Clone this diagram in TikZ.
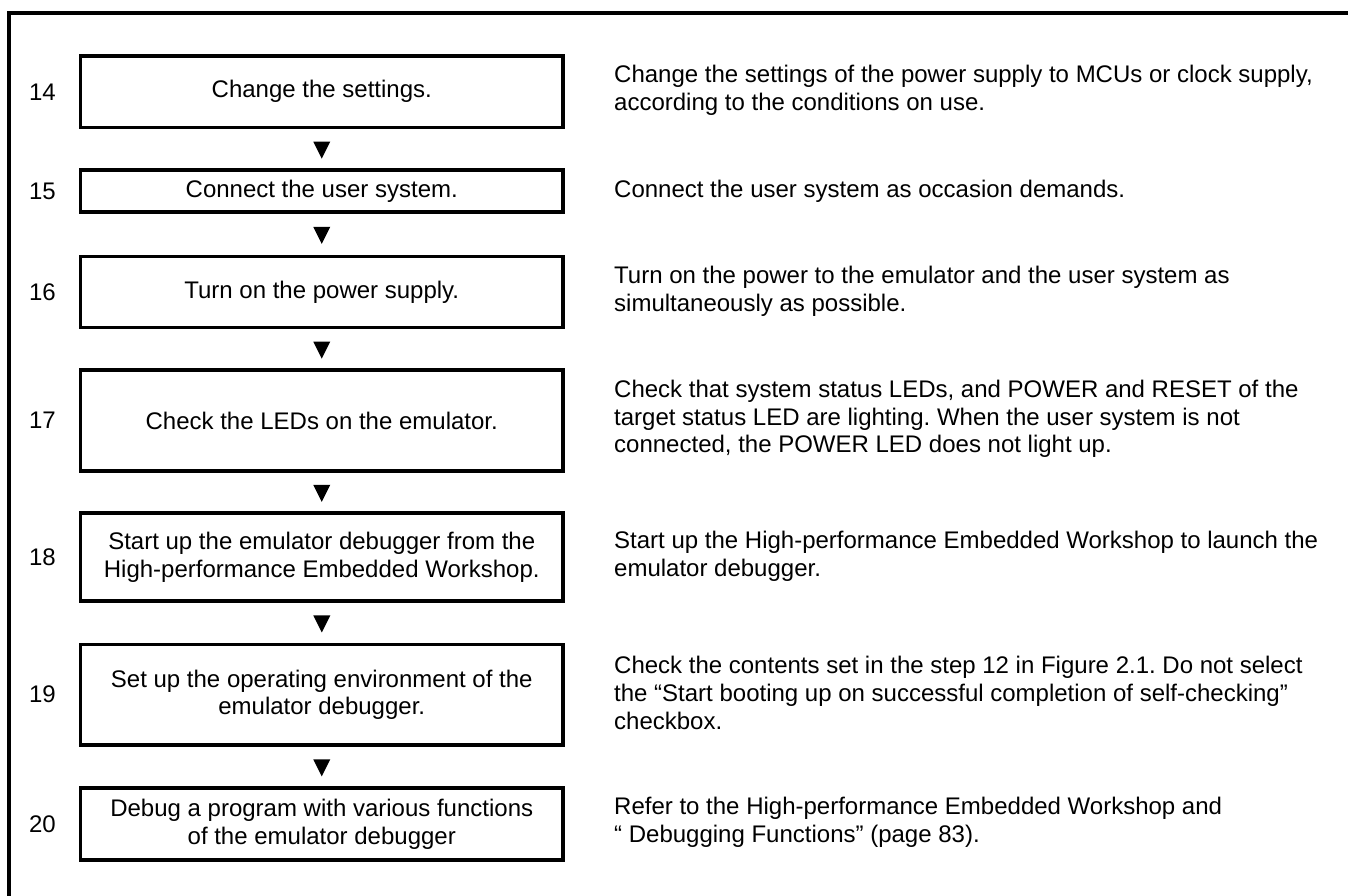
\documentclass[tikz,border=0pt]{standalone}
\usepackage{fontspec}
\setmainfont{Liberation Sans}
\usetikzlibrary{shapes.geometric}
\frenchspacing
\begin{document}
\begin{tikzpicture}[x=1pt,y=-1pt,
  txt/.style={font=\fontsize{24}{27.6}\selectfont},
  stepbox/.style={txt, draw, line width=3.6pt, minimum width=482.5pt, inner sep=0pt, align=center},
  numlabel/.style={txt, inner sep=0pt},
  desc/.style={txt, anchor=west, align=left, inner sep=0pt},
  tri/.style={isosceles triangle, isosceles triangle stretches, shape border rotate=-90, minimum width=17pt, minimum height=17pt, inner sep=0pt, fill=black, draw=none},
  frame/.style={draw, line width=3.2pt}]
\useasboundingbox (0,0) rectangle (1348,895);
\clip (0,0) rectangle (1348,895);
\draw[frame] (9,13) rectangle (1370,920);

% step boxes
\node[stepbox, minimum height=71.5pt] (b14) at (321.75,91.75) {Change the settings.};
\node[stepbox, minimum height=42pt]   (b15) at (321.75,191)   {Connect the user system.};
\node[stepbox, minimum height=71pt]   (b16) at (321.75,292)   {Turn on the power supply.};
\node[stepbox, minimum height=101pt]  (b17) at (321.75,420.5) {Check the LEDs on the emulator.};
\node[stepbox, minimum height=88pt]   (b18) at (321.75,557)   {Start up the emulator debugger from the\\High-performance Embedded Workshop.};
\node[stepbox, minimum height=100.5pt](b19) at (321.75,694.7) {Set up the operating environment of the\\emulator debugger.};
\node[stepbox, minimum height=72pt]   (b20) at (321.75,824)   {Debug a program with various functions\\of the emulator debugger};

% numbers
\node[numlabel] (n14) at (42.5,91.75) {14};
\node[numlabel] (n15) at (42.5,191)   {15};
\node[numlabel] (n16) at (42.5,292)   {16};
\node[numlabel] (n17) at (42.5,420.5) {17};
\node[numlabel] (n18) at (42.5,557)   {18};
\node[numlabel] (n19) at (42.5,694.7) {19};
\node[numlabel] (n20) at (42.5,824)   {20};

% descriptions
\node[desc] (d14) at (614,90)  {Change the settings of the power supply to MCUs or clock supply,\\according to the conditions on use.};
\node[desc] (d15) at (614,191) {Connect the user system as occasion demands.};
\node[desc] (d16) at (614,291) {Turn on the power to the emulator and the user system as\\simultaneously as possible.};
\node[desc] (d17) at (614,419) {Check that system status LEDs, and POWER and RESET of the\\target status LED are lighting. When the user system is not\\connected, the POWER LED does not light up.};
\node[desc] (d18) at (614,556) {Start up the High-performance Embedded Workshop to launch the\\emulator debugger.};
\node[desc] (d19) at (614,693) {Check the contents set in the step 12 in Figure 2.1. Do not select\\the “Start booting up on successful completion of self-checking”\\checkbox.};
\node[desc] (d20) at (614,822) {Refer to the High-performance Embedded Workshop and\\“ Debugging Functions” (page 83).};

% flow markers
\foreach \a/\b in {b14/b15,b15/b16,b16/b17,b17/b18,b18/b19,b19/b20}
  \path (\a) -- (\b) node[tri, pos=0.45] {};
\end{tikzpicture}
\end{document}
